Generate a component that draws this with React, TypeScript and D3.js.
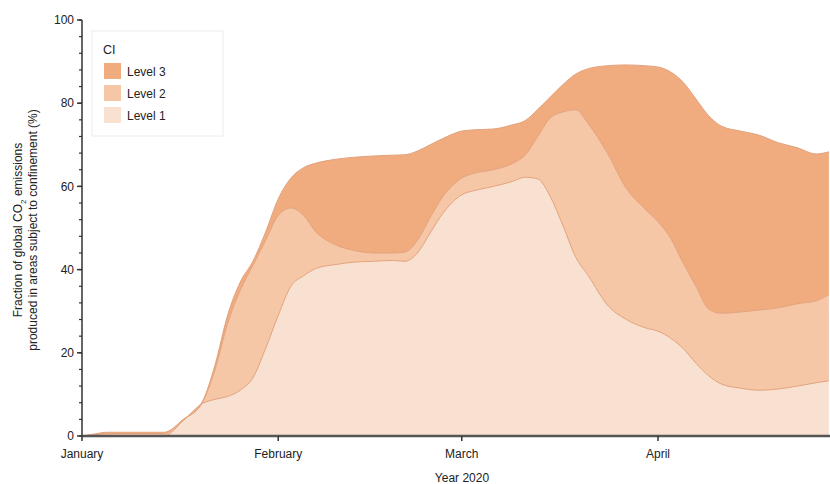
import * as d3 from "d3";

const dates = [
  "2020-01-01", "2020-01-03", "2020-01-05", "2020-01-14", "2020-01-17", "2020-01-20",
  "2020-01-22", "2020-01-24", "2020-01-26", "2020-01-28", "2020-01-30", "2020-02-01",
  "2020-02-03", "2020-02-05", "2020-02-07", "2020-02-10", "2020-02-13", "2020-02-16",
  "2020-02-19", "2020-02-21", "2020-02-23", "2020-02-25", "2020-02-27", "2020-03-01",
  "2020-03-03", "2020-03-06", "2020-03-09", "2020-03-11", "2020-03-13", "2020-03-15",
  "2020-03-17", "2020-03-19", "2020-03-21", "2020-03-24", "2020-03-27", "2020-03-30",
  "2020-04-01", "2020-04-03", "2020-04-05", "2020-04-07", "2020-04-09", "2020-04-11",
  "2020-04-14", "2020-04-17", "2020-04-20", "2020-04-23", "2020-04-26", "2020-04-28",
];

// share of emissions per confinement level (%), stacked 1 -> 3
const level1 = [
  0, 0, 0, 0, 3.7, 7.8, 8.8, 9.5, 11, 14, 21, 29,
  36, 38.5, 40.3, 41.2, 41.8, 42, 42.2, 42, 44, 48.8, 53.5, 58,
  59, 60, 61.2, 62.2, 61.8, 57.5, 50.5, 43, 38.5, 31.5, 28, 26,
  25.2, 23.5, 21, 17.5, 14.5, 12.5, 11.5, 11, 11.3, 12, 12.8, 13.3,
];
const level2 = [
  0, 0.3, 0.6, 0.6, 0.2, 0.2, 7.1, 17.5, 24, 27, 26, 24,
  18.8, 14.5, 8.7, 4.8, 2.8, 2, 1.8, 2.2, 3, 3.7, 4, 4,
  4.2, 4, 4.3, 5.3, 10.2, 19, 27.4, 35.4, 36.5, 36.5, 31.5, 28.5,
  26.3, 24, 20.5, 18.5, 16, 17, 18.3, 19.3, 19.5, 19.8, 19.7, 20.7,
];
const level3 = [
  0, 0.2, 0.3, 0.3, 0.1, 0.2, 1.1, 2, 2, 1, 2, 4,
  7.2, 11.5, 16.6, 20.5, 22.4, 23.3, 23.5, 23.4, 21.5, 17.5, 14, 11.3,
  10.4, 9.8, 9.3, 8.3, 6.5, 5, 6.6, 8.6, 13.3, 21, 29.7, 34.5,
  37.2, 40, 43.5, 45, 46.5, 45, 43.5, 42, 39.7, 37.5, 35.3, 34.3,
];

const levelKeys = ["Level 1", "Level 2", "Level 3"];
const levelColors = ["#f9e1d2", "#f6c7a7", "#f0ac7e"];
const monthTicks = ["2020-01-01", "2020-02-01", "2020-03-01", "2020-04-01"];
const yTicks = [0, 20, 40, 60, 80, 100];

const W = 830;
const H = 484;
const left = 82;
const right = 830;
const top = 20;
const bottom = 436;

export default function App() {
  const parse = d3.utcParse("%Y-%m-%d");
  const rows = dates.map((d, i) => ({
    date: parse(d) as Date,
    "Level 1": level1[i],
    "Level 2": level2[i],
    "Level 3": level3[i],
  }));

  const x = d3
    .scaleUtc()
    .domain([parse("2020-01-01") as Date, parse("2020-04-01") as Date])
    .range([left, 658]);
  const y = d3.scaleLinear().domain([0, 100]).range([bottom, top]);

  const series = d3.stack<any>().keys(levelKeys)(rows);
  const area = d3
    .area<any>()
    .x((d) => x(d.data.date))
    .y0((d) => y(d[0]))
    .y1((d) => y(d[1]))
    .curve(d3.curveMonotoneX);
  const topLine = d3
    .line<any>()
    .x((d) => x(d.data.date))
    .y((d) => y(d[1]))
    .curve(d3.curveMonotoneX);

  const minorTicks = d3.range(0, 101, 4);
  const font = "'Liberation Sans', Arial, sans-serif";

  return (
    <svg
      width={W}
      height={H}
      style={{ position: "absolute", left: 0, top: 0, background: "#fff" }}
      fontFamily={font}
    >
      <defs>
        <clipPath id="plot-clip">
          <rect x={left} y={0} width={right - left} height={bottom} />
        </clipPath>
      </defs>

      <g clipPath="url(#plot-clip)">
        {series.map((s, i) => (
          <path key={s.key} d={area(s) || ""} fill={levelColors[i]} />
        ))}
        {series.map((s) => (
          <path
            key={s.key + "-line"}
            d={topLine(s) || ""}
            fill="none"
            stroke="#e3a27c"
            strokeWidth={1}
          />
        ))}
      </g>

      {/* y axis */}
      <line x1={left} x2={left} y1={top} y2={bottom} stroke="#333" strokeWidth={1.5} />
      {minorTicks.map((t) => (
        <line key={"m" + t} x1={left - 3} x2={left} y1={y(t)} y2={y(t)} stroke="#333" strokeWidth={1.2} />
      ))}
      {yTicks.map((t) => (
        <g key={"y" + t}>
          <line x1={left - 5} x2={left} y1={y(t)} y2={y(t)} stroke="#333" strokeWidth={1.5} />
          <text x={left - 8} y={y(t)} dy="0.35em" textAnchor="end" fontSize={12} fill="#222">
            {t}
          </text>
        </g>
      ))}

      {/* x axis */}
      <line x1={left} x2={right} y1={bottom} y2={bottom} stroke="#555" strokeWidth={2.5} />
      {monthTicks.map((m) => {
        const d = parse(m) as Date;
        return (
          <g key={m}>
            <line x1={x(d)} x2={x(d)} y1={bottom} y2={bottom + 5} stroke="#333" strokeWidth={1.5} />
            <text x={x(d)} y={bottom + 22} textAnchor="middle" fontSize={12} fill="#222">
              {d3.utcFormat("%B")(d)}
            </text>
          </g>
        );
      })}
      <text x={462} y={482} textAnchor="middle" fontSize={12} fill="#222">
        Year 2020
      </text>

      {/* y label */}
      <g transform="translate(22,230) rotate(-90)">
        <text textAnchor="middle" fontSize={12} fill="#222">
          Fraction of global CO
          <tspan fontSize={8} dy={4}>2</tspan>
          <tspan dy={-4}> emissions</tspan>
        </text>
        <text y={15} textAnchor="middle" fontSize={12} fill="#222">
          produced in areas subject to confinement (%)
        </text>
      </g>

      {/* legend */}
      <rect x={92} y={31} width={131} height={105} fill="#fff" stroke="#ececec" strokeWidth={1} />
      <text x={103} y={54} fontSize={12.5} fill="#222">
        CI
      </text>
      {[2, 1, 0].map((k, i) => (
        <g key={"lg" + k} transform={`translate(104,${63 + i * 22})`}>
          <rect width={17} height={16} fill={levelColors[k]} />
          <text x={23} y={12.5} fontSize={12} fill="#222">
            {levelKeys[k]}
          </text>
        </g>
      ))}
    </svg>
  );
}
